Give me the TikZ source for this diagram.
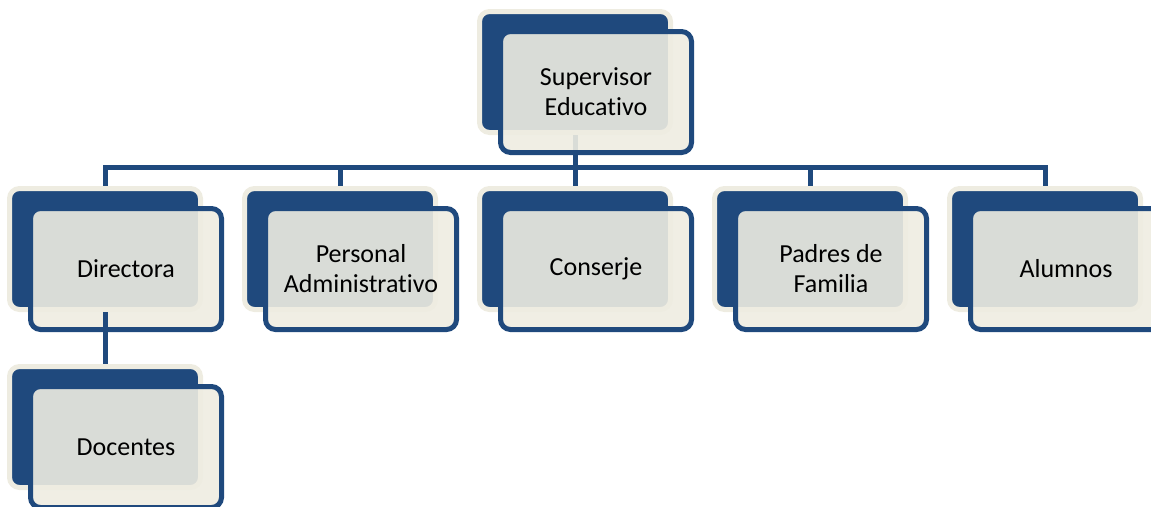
\documentclass[tikz,border=0pt]{standalone}
\usepackage{fontspec}
\setmainfont[Ligatures=NoCommon]{Carlito}
\usepackage{tikz}
\definecolor{navy}{HTML}{1F497D}
\definecolor{cream}{HTML}{EEECE1}

\begin{document}
\begin{tikzpicture}[x=1pt,y=-1pt,
  back/.style={draw=cream, fill=navy, line width=5pt, rounded corners=10pt,
    minimum width=191pt, minimum height=121pt},
  front/.style={draw=navy, fill=cream, fill opacity=.9, text opacity=1,
    line width=5pt, rounded corners=10pt, minimum width=191pt,
    minimum height=121pt, align=center, font=\fontsize{26}{30}\selectfont},
  link/.style={draw=navy, line width=5pt}]
\useasboundingbox (0,0) rectangle (1151,506);
\def\dx{21}
\def\dy{20}
\coordinate (bus) at (0,167);
\node[back] (sup-b) at (575,72) {};
%\node[back] (sup-b) at (575,72) {Supervisor};
\foreach \nm/\txt [count=\i from 0] in {dir/Directora, per/{Personal\\Administrativo},
    con/Conserje, pad/{Padres de\\Familia}, alu/Alumnos} {
  \node[back] (\nm-b) at (105+235*\i,249) {};
  \draw[link] (sup-b.south) -- (sup-b.south |- bus) -| (\nm-b.north);
  \node[front] (\nm) at ([shift={(\dx,\dy)}]\nm-b.center) {\txt};
}
\node[back] (doc-b) at (105,427) {};
\draw[link] (dir-b.south) -- (doc-b.north);
\node[front] (doc) at ([shift={(\dx,\dy)}]doc-b.center) {Docentes};
\node[front] (sup) at ([shift={(\dx,\dy)}]sup-b.center) {Supervisor\\Educativo};
\end{tikzpicture}
\end{document}
